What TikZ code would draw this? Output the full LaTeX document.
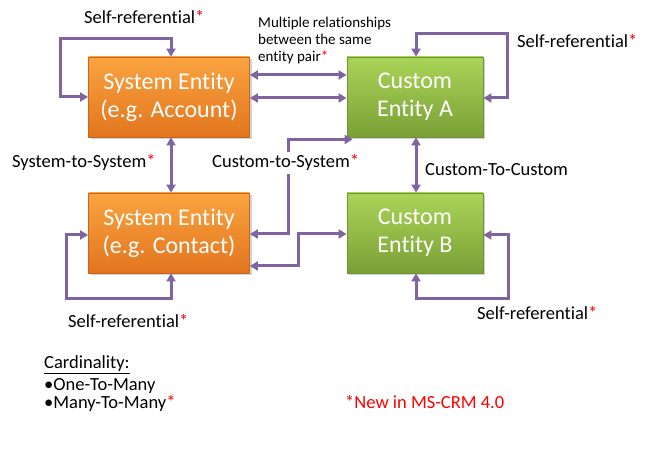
\documentclass[tikz,border=0pt]{standalone}
\usepackage{fontspec}
\setmainfont{Carlito}[Ligatures=NoCommon]
\usetikzlibrary{arrows.meta,calc,shadows}
\definecolor{relc}{RGB}{128,100,162}
\definecolor{orTop}{RGB}{250,163,64}
\definecolor{orBot}{RGB}{226,117,30}
\definecolor{orBrd}{RGB}{200,102,28}
\definecolor{grTop}{RGB}{170,212,88}
\definecolor{grBot}{RGB}{122,160,54}
\definecolor{grBrd}{RGB}{112,145,52}
\newcommand\redstar{\textcolor{red}{*}}
\tikzset{
  entbox/.style={draw, line width=0.8pt, inner sep=0pt, text=white, align=center,
    font=\fontsize{24}{28}\selectfont,
    drop shadow={opacity=0.35, shadow xshift=2pt, shadow yshift=-2pt}},
  sysbox/.style={entbox, top color=orTop, bottom color=orBot, draw=orBrd,
    minimum width=161pt, minimum height=80pt},
  cusbox/.style={entbox, top color=grTop, bottom color=grBot, draw=grBrd,
    minimum width=136pt, minimum height=80pt},
  rel/.style={draw=relc, line width=3pt, {Triangle[length=8pt,width=9pt]}-{Triangle[length=8pt,width=9pt]}},
  lbl/.style={anchor=base west, inner sep=0pt, font=\fontsize{18.5}{22}\selectfont},
  small/.style={anchor=north west, inner sep=0pt, align=left, font=\fontsize{15}{17}\selectfont}
}
\begin{document}
\begin{tikzpicture}[x=1pt,y=-1pt]
\useasboundingbox (0,0) rectangle (654,470);

\node[sysbox] (acc) at (169,97) {System Entity\\(e.g. Account)};
\node[cusbox] (ca) at (415,97) {Custom\\Entity A};
\node[sysbox] (con) at (169,233) {System Entity\\(e.g. Contact)};
\node[cusbox] (cb) at (415,233) {Custom\\Entity B};

% self-referential loops
\draw[rel] (acc.west) -- ++(-28,0) |- ($(acc.north)+(2,-18)$) -- ($(acc.north)+(2,0)$);
\draw[rel] ($(ca.east)+(0,1)$) -- ++(24,0) |- ($(ca.north)+(1,-23)$) -- ($(ca.north)+(1,0)$);
\draw[rel] ($(cb.east)+(0,2)$) -- ++(25,0) |- ($(cb.south)+(1,25)$) -- ($(cb.south)+(1,0)$);
\draw[rel] ($(con.west)+(0,2)$) -- ++(-22,0) |- ($(con.south)+(2,25)$) -- ($(con.south)+(2,0)$);

% multiple relationships
\draw[rel] ($(acc.east)+(0,-22)$) -- ($(ca.west)+(0,-22)$);
\draw[rel] ($(acc.east)+(0,1)$) -- ($(ca.west)+(0,1)$);

% verticals
\draw[rel] ($(acc.south)+(2,0)$) -- ($(con.north)+(2,0)$);
\draw[rel] ($(ca.south)+(1,0)$) -- ($(cb.north)+(1,0)$);

% custom to system
\draw[rel] ($(con.east)+(0,1)$) -- ++(39,0) |- ($(ca.south west)+(6,2)$);
\draw[rel] ($(con.east)+(0,33)$) -- ++(49,0) |- ($(cb.west)+(0,1)$);

% labels
\node[lbl] (l1) at (84,24) {Self-referential\redstar};
\node[lbl] (l2) at (517,48) {Self-referential\redstar};
\node[lbl] (l3) at (12,168) {System-to-System\redstar};
\node[lbl, fill=white, inner xsep=1pt, inner ysep=3pt] (l4) at (211,168) {Custom-to-System\redstar};
\node[lbl] (l5) at (425,176) {Custom-To-Custom};
\node[lbl] (l6) at (68,328) {Self-referential\redstar};
\node[lbl] (l7) at (477,320) {Self-referential\redstar};
\node[small] (mr) at (258,17) {Multiple relationships\\between the same\\entity pair\redstar};

\node[lbl] (c1) at (44,369) {\underline{Cardinality:}};
\node[lbl] (c2) at (44,391) {•One-To-Many};
\node[lbl] (c3) at (44,409) {•Many-To-Many\redstar};
\node[lbl, text=red] (nw) at (345,409) {*New in MS-CRM 4.0};
\end{tikzpicture}
\end{document}
